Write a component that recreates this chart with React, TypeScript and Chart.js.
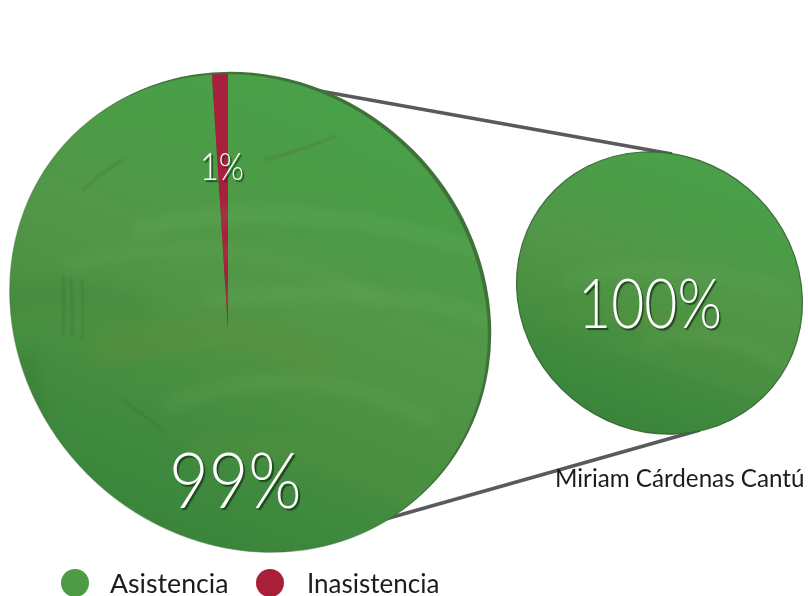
import React, { useEffect, useRef } from "react";
import { Chart, registerables } from "chart.js";
Chart.register(...registerables);

const categories = ["Asistencia", "Inasistencia"];
const overallValues = [99, 1];
const personValues = [100, 0];
const overallLabels = ["99%", "1%"];
const personLabel = "100%";
const personName = "Miriam Cárdenas Cantú";
const legendColors = ["#4f9a45", "#a81f3a"];
const RED = "#a91f3e";

type Streak = [number, number, number, number, number, number, number, string];

function greenFill(ctx: CanvasRenderingContext2D, x0: number, y0: number, x1: number, y1: number) {
  const g = ctx.createLinearGradient(x0, y0, x1, y1);
  g.addColorStop(0, "#4aa24b");
  g.addColorStop(0.22, "#4b9c47");
  g.addColorStop(0.45, "#529748");
  g.addColorStop(0.62, "#4c9142");
  g.addColorStop(0.82, "#3f8a3e");
  g.addColorStop(1, "#39833a");
  return g;
}

function drawStreaks(ctx: CanvasRenderingContext2D, list: Streak[], blur: number) {
  ctx.save();
  ctx.filter = `blur(${blur}px)`;
  ctx.lineCap = "round";
  for (const [a, b, c, d, e, f, w, col] of list) {
    ctx.beginPath();
    ctx.moveTo(a, b);
    ctx.quadraticCurveTo(c, d, e, f);
    ctx.lineWidth = w;
    ctx.strokeStyle = col;
    ctx.stroke();
  }
  ctx.restore();
}

const bigStreaks: Streak[] = [
  [180, 170, 330, 130, 520, 190, 12, "rgba(120,190,110,0.22)"],
  [110, 205, 280, 160, 420, 240, 10, "rgba(120,185,110,0.18)"],
  [250, 240, 420, 220, 540, 260, 14, "rgba(125,185,105,0.18)"],
  [150, 290, 270, 250, 360, 300, 34, "rgba(120,140,50,0.16)"],
  [210, 345, 350, 290, 470, 360, 10, "rgba(125,180,100,0.22)"],
  [40, 240, 100, 220, 180, 250, 24, "rgba(40,110,50,0.14)"],
  [70, 300, 80, 350, 80, 400, 16, "rgba(40,95,45,0.18)"],
  [240, 390, 340, 370, 480, 450, 24, "rgba(115,150,65,0.15)"],
];
const bigScratches: Streak[] = [
  [105, 216, 107, 245, 105, 275, 1.5, "rgba(40,80,40,0.35)"],
  [113, 218, 115, 245, 114, 276, 1.5, "rgba(40,80,40,0.30)"],
  [124, 220, 126, 250, 124, 280, 1.5, "rgba(40,80,40,0.25)"],
  [305, 100, 340, 92, 378, 76, 2, "rgba(90,100,40,0.35)"],
  [125, 130, 140, 115, 165, 100, 2, "rgba(60,90,40,0.30)"],
  [165, 340, 185, 355, 205, 370, 2, "rgba(40,80,40,0.22)"],
];
const smallStreaks: Streak[] = [
  [50, 130, 140, 100, 270, 140, 9, "rgba(125,190,110,0.20)"],
  [30, 170, 110, 150, 200, 190, 12, "rgba(120,150,60,0.14)"],
  [130, 190, 220, 170, 290, 230, 8, "rgba(125,190,110,0.20)"],
  [90, 190, 190, 220, 290, 255, 7, "rgba(125,175,100,0.15)"],
];

type Disc = { cx: number; cy: number; rx: number; ry: number; rot: number };

function discPath(ctx: CanvasRenderingContext2D, d: Disc, dx = 0, dy = 0) {
  ctx.beginPath();
  ctx.ellipse(d.cx + dx, d.cy + dy, d.rx, d.ry, d.rot, 0, Math.PI * 2);
}

const discPlugin = (
  d: Disc,
  streaks: Streak[],
  scratches: Streak[],
  shift: [number, number],
  rim: [number, number] | null,
  outline: string,
) => ({
  id: "disc",
  beforeDatasetsDraw(chart: any) {
    const ctx = chart.ctx as CanvasRenderingContext2D;
    if (rim) {
      ctx.save();
      discPath(ctx, d, rim[0], rim[1]);
      ctx.fillStyle = "#3f7239";
      ctx.fill();
      ctx.restore();
    }
    ctx.save();
    discPath(ctx, d);
    ctx.clip();
  },
  afterDatasetsDraw(chart: any) {
    const ctx = chart.ctx as CanvasRenderingContext2D;
    ctx.restore();
    ctx.save();
    discPath(ctx, d);
    ctx.clip();
    ctx.translate(shift[0], shift[1]);
    drawStreaks(ctx, streaks, 7);
    drawStreaks(ctx, scratches, 0.8);
    ctx.restore();
    ctx.save();
    discPath(ctx, d);
    ctx.strokeStyle = outline;
    ctx.lineWidth = 1.2;
    ctx.stroke();
    ctx.restore();
  },
});

const connectorPlugin = {
  id: "connectors",
  beforeDraw(chart: any) {
    const ctx = chart.ctx as CanvasRenderingContext2D;
    ctx.save();
    ctx.strokeStyle = "#5a5a5e";
    ctx.lineWidth = 3.6;
    ctx.beginPath();
    ctx.moveTo(320, 91);
    ctx.lineTo(672, 154);
    ctx.moveTo(375, 522);
    ctx.lineTo(700, 430);
    ctx.stroke();
    ctx.restore();
  },
};

const labelStyle: React.CSSProperties = {
  position: "absolute",
  fontFamily: "Lato, 'Open Sans', sans-serif",
  fontWeight: 300,
  color: "#ffffff",
  lineHeight: 1,
  whiteSpace: "nowrap",
  textShadow: "2px 2px 1px rgba(20,50,20,0.75)",
  transformOrigin: "left top",
};
const legendText: React.CSSProperties = {
  position: "absolute",
  fontFamily: "Lato, 'Open Sans', sans-serif",
  color: "#1c1c1c",
  lineHeight: 1,
  whiteSpace: "nowrap",
};
const dot = (left: number, color: string): React.CSSProperties => ({
  position: "absolute",
  left,
  top: 569,
  width: 28,
  height: 28,
  borderRadius: "50%",
  background: color,
});

export default function App() {
  const smallRef = useRef<HTMLCanvasElement>(null);
  const bigRef = useRef<HTMLCanvasElement>(null);

  useEffect(() => {
    const small = new Chart(smallRef.current!, {
      type: "pie",
      data: {
        labels: categories,
        datasets: [
          {
            data: personValues,
            borderWidth: 0,
            backgroundColor: (c: any) => [greenFill(c.chart.ctx, 720, 151, 620, 435), RED][c.dataIndex],
          },
        ],
      },
      options: {
        responsive: false,
        animation: false,
        layout: { padding: { left: 510, right: 0, top: 144, bottom: 154 } },
        plugins: { legend: { display: false }, tooltip: { enabled: false } },
      },
      plugins: [
        connectorPlugin,
        discPlugin({ cx: 659.5, cy: 293, rx: 147, ry: 137, rot: Math.PI * 0.222 }, smallStreaks, [], [517, 151], null, "rgba(50,100,50,0.9)"),
      ],
    });

    // The wedge's apex sits off the disc centre in the reference (tilted disc),
    // so the pie is oversized around the apex and clipped to the disc outline.
    const big = new Chart(bigRef.current!, {
      type: "pie",
      data: {
        labels: categories,
        datasets: [
          {
            data: overallValues,
            borderWidth: 0,
            backgroundColor: (c: any) => [greenFill(c.chart.ctx, 390, 13, 200, 491), RED][c.dataIndex],
          },
        ],
      },
      options: {
        responsive: false,
        animation: false,
        rotation: 0,
        plugins: { legend: { display: false }, tooltip: { enabled: false } },
      },
      plugins: [
        discPlugin({ cx: 291, cy: 253, rx: 250, ry: 228, rot: Math.PI / 4 }, bigStreaks, bigScratches, [0, 0], [3, -2], "rgba(60,110,55,0.5)"),
      ],
    });
    return () => {
      small.destroy();
      big.destroy();
    };
  }, []);

  return (
    <div style={{ position: "fixed", left: 0, top: 0, width: 808, height: 596, overflow: "hidden", background: "#fff" }}>
      <canvas ref={smallRef} width={808} height={596} style={{ position: "absolute", left: 0, top: 0, width: 808, height: 596 }} />
      <canvas ref={bigRef} width={540} height={540} style={{ position: "absolute", left: -42, top: 60, width: 540, height: 540 }} />
      <div style={{ ...labelStyle, left: 169, top: 441, fontSize: 76, transform: "scaleX(0.9)" }}>{overallLabels[0]}</div>
      <div style={{ ...labelStyle, left: 200, top: 146, fontSize: 38, transform: "scaleX(0.85)" }}>{overallLabels[1]}</div>
      <div style={{ ...labelStyle, left: 578, top: 268, fontSize: 68, transform: "scaleX(0.84)" }}>{personLabel}</div>
      <div style={{ ...legendText, left: 555, top: 466, fontSize: 24.2 }}>{personName}</div>
      <div style={dot(61, legendColors[0])} />
      <div style={{ ...legendText, left: 110, top: 570, fontSize: 26.7 }}>{categories[0]}</div>
      <div style={dot(256, legendColors[1])} />
      <div style={{ ...legendText, left: 307, top: 570, fontSize: 26 }}>{categories[1]}</div>
    </div>
  );
}
